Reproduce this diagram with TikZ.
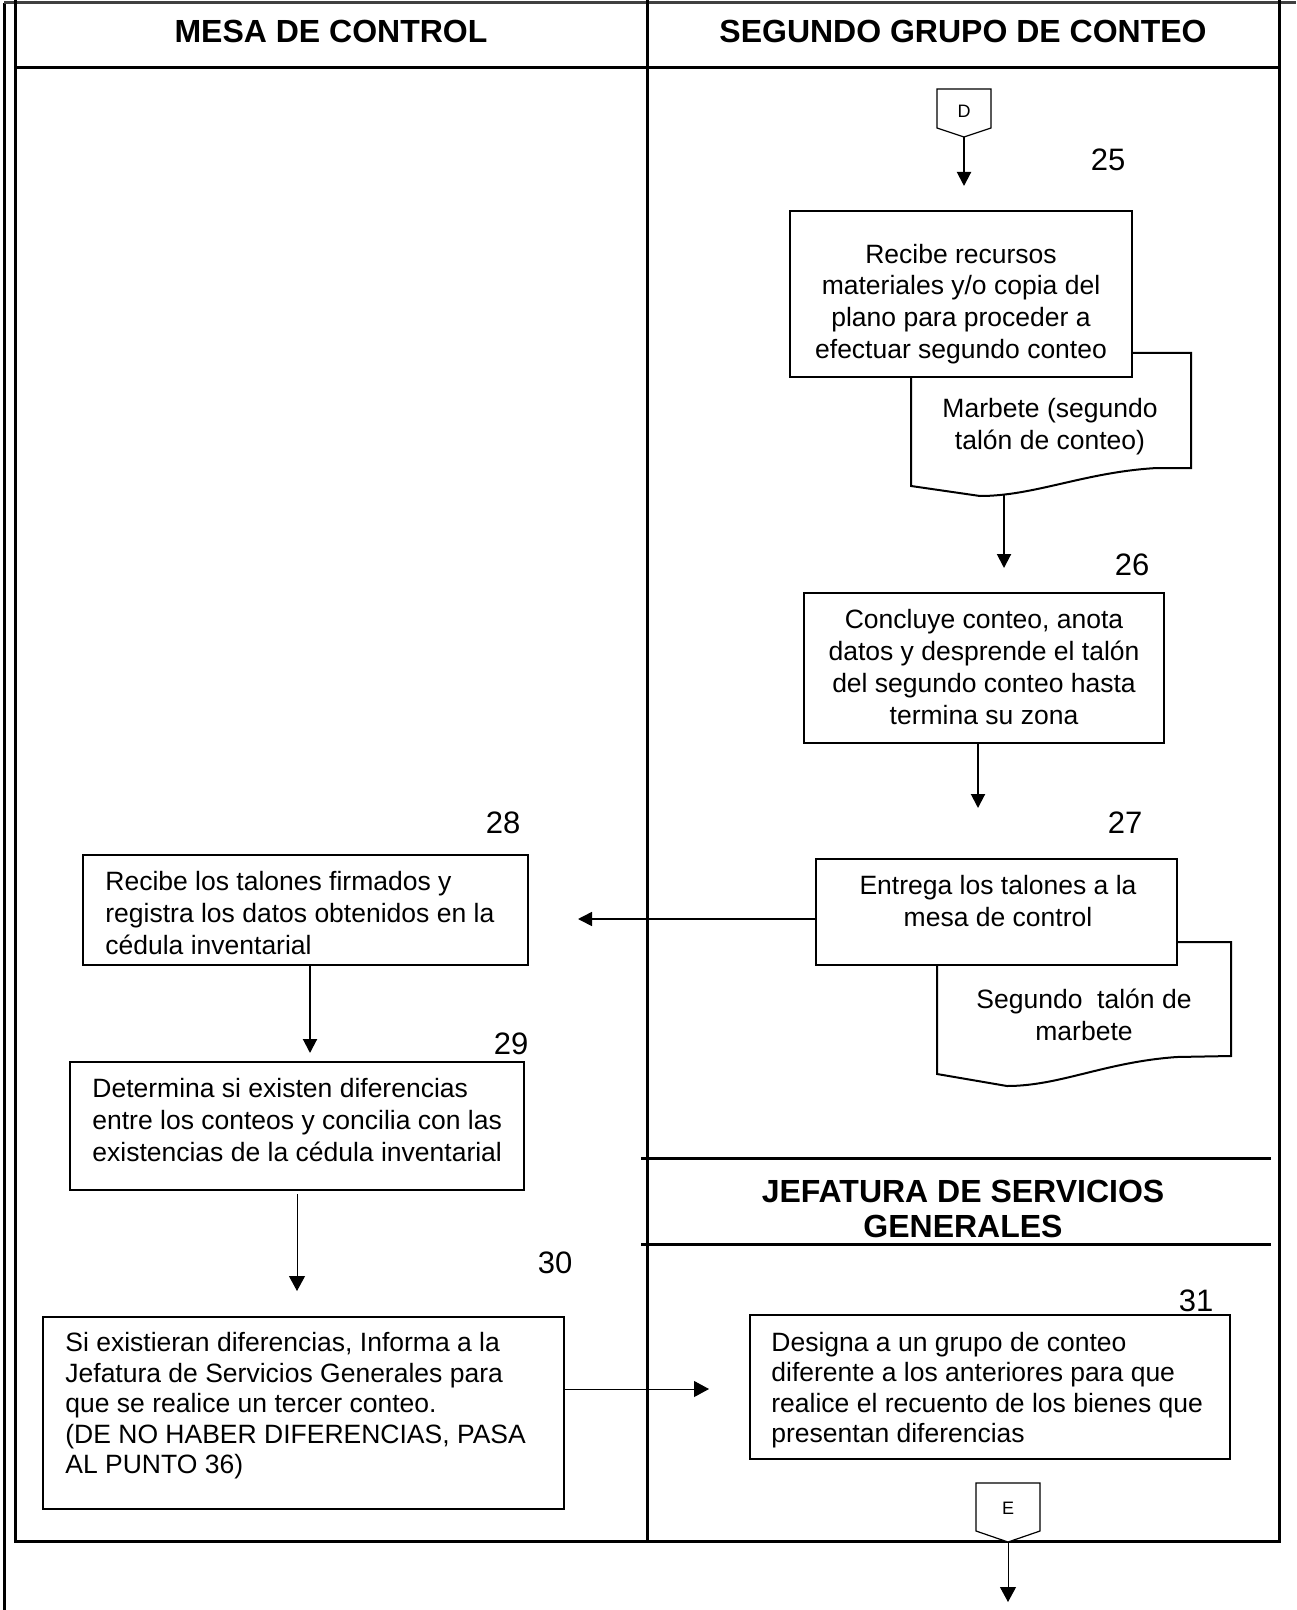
\documentclass[tikz,border=0pt]{standalone}
\usepackage{fontspec}
\setmainfont{Liberation Sans}
\usetikzlibrary{arrows.meta}

\begin{document}
\begin{tikzpicture}[x=0.5pt,y=-0.5pt,
  lane/.style={line width=1.5pt},
  box/.style={draw, line width=1pt, fill=white, inner sep=0pt, outer sep=0pt},
  body/.style={font=\fontsize{13.25}{15.9}\selectfont, inner sep=0pt},
  tightbody/.style={font=\fontsize{13.25}{15.25}\selectfont, inner sep=0pt},
  num/.style={font=\fontsize{15.5}{18}\selectfont, inner sep=0pt},
  head/.style={font=\bfseries\fontsize{16}{17.5}\selectfont, inner sep=0pt, align=center},
  flow/.style={line width=1pt, -{Triangle[length=7pt,width=7pt]}},
  thinflow/.style={line width=0.5pt, -{Triangle[length=7.5pt,width=8pt]}},
  docshape/.style={draw, line width=1pt, fill=white},
  offpage/.style={draw, line width=0.6pt, fill=white},
]
\useasboundingbox (0,0) rectangle (1296,1610);

% ---- swimlane frame ----
\draw[lane] (4,3) -- (4,1610);
\draw[line width=1.5pt, black!75] (4,3) -- (1296,3);
\draw[lane] (15,0) -- (15,1541) -- (1279,1541) -- (1279,0);
\draw[lane] (647,0) -- (647,1541);
\draw[lane] (15,68) -- (1279,68);
\draw[lane] (641,1158) -- (1271,1158);
\draw[lane] (641,1244) -- (1271,1244);

\node[head] (hmesa) at (331,31) {MESA DE CONTROL};
\node[head] (hsegundo) at (963,31) {SEGUNDO GRUPO DE CONTEO};
\node[head] (hjefatura) at (963,1209) {JEFATURA DE SERVICIOS\\GENERALES};

% ---- off-page connector D ----
\draw[offpage] (937,89) -- (991,89) -- (991,128) -- (964,137) -- (937,128) -- cycle;
\node[font=\fontsize{9}{10}\selectfont, inner sep=0pt] (D) at (964,111) {D};
\coordinate (Dtip) at (964,137);

% ---- documents (drawn below the boxes) ----
\draw[docshape] (911,353) -- (1191,353) -- (1191,468) -- (1157,468)
  .. controls (1085,472) and (1035,496) .. (980,496) -- (911,486) -- cycle;
\node[body, align=center] (doc1) at (1050,427) {Marbete (segundo\\talón de conteo)};
\coordinate (d1b) at (1004,494.5);

\draw[docshape] (937,942) -- (1231,942) -- (1231,1056) -- (1177,1057)
  .. controls (1105,1062) and (1060,1086) .. (1007,1086) -- (937,1074) -- cycle;
\node[body, align=center] (doc2) at (1084,1015) {Segundo\ \ talón de\\marbete};

% ---- process boxes ----
\node[box, minimum width=171pt, minimum height=83pt] (box25) at (961,294) {};
\node[body, align=center] (t25) at (961,304) {Recibe recursos\\materiales y/o copia del\\plano para proceder a\\efectuar segundo conteo};

\node[box, minimum width=180pt, minimum height=75pt] (box26) at (984,668) {};
\node[body, align=center] (t26) at (984,667) {Concluye conteo, anota\\datos y desprende el talón\\del segundo conteo hasta\\termina su zona};

\node[box, minimum width=180.5pt, minimum height=53pt] (box27) at (996.5,912) {};
\node[body, align=center] (t27) at (998,901) {Entrega los talones a la\\mesa de control};

\node[box, minimum width=222.5pt, minimum height=55pt] (box28) at (305.5,910) {};
\node[body, align=left, anchor=west] (t28) at (105,913) {Recibe los talones firmados y\\registra los datos obtenidos en la\\cédula inventarial};

\node[box, minimum width=227pt, minimum height=64pt] (box29) at (297,1126) {};
\node[body, align=left, anchor=west] (t29) at (92,1120) {Determina si existen diferencias\\entre los conteos y concilia con las\\existencias de la cédula inventarial};

\node[box, minimum width=260.5pt, minimum height=96pt] (box30) at (303.5,1413) {};
\node[tightbody, align=left, anchor=west] (t30) at (65,1406) {Si existieran diferencias, Informa a la\\Jefatura de Servicios Generales para\\que se realice un tercer conteo.\\(DE NO HABER DIFERENCIAS, PASA\\AL PUNTO 36)};

\node[box, minimum width=240pt, minimum height=72pt] (box31) at (990,1387) {};
\node[tightbody, align=left, anchor=west] (t31) at (771,1390) {Designa a un grupo de conteo\\diferente a los anteriores para que\\realice el recuento de los bienes que\\presentan diferencias};

% ---- step numbers ----
\node[num] (n25) at (1108,160) {25};
\node[num] (n26) at (1132,565) {26};
\node[num] (n27) at (1125,823) {27};
\node[num] (n28) at (503,823) {28};
\node[num] (n29) at (511,1044) {29};
\node[num] (n30) at (555,1263) {30};
\node[num] (n31) at (1196,1301) {31};

% ---- off-page connector E ----
\draw[offpage] (976,1483) -- (1040,1483) -- (1040,1531) -- (1008,1542) -- (976,1531) -- cycle;
\node[font=\fontsize{9}{10}\selectfont, inner sep=0pt] (E) at (1008,1508) {E};
\coordinate (Etip) at (1008,1542);
\coordinate (Eend) at (1008,1602);

% ---- connectors ----
\draw[flow, shorten >=12.5pt] (Dtip) -- (Dtip |- box25.north);
\draw[flow, shorten >=12.5pt] (d1b) -- (d1b |- box26.north);
\draw[flow, shorten >=25.5pt] (978,0 |- box26.south) -- (978,0 |- box27.north);
\coordinate (h27) at ([yshift=-3.5pt]box27.west);
\draw[line width=0.8pt, -{Triangle[length=7pt,width=7pt]}, shorten >=25pt] (h27) -- (h27 -| box28.east);
\draw[flow, shorten >=4.5pt] (310,0 |- box28.south) -- (310,0 |- box29.north);
\draw[thinflow, shorten <=2pt, shorten >=13pt] (box29.south) -- (box29.south |- box30.north);
\coordinate (h30) at ([yshift=12pt]box30.east);
\draw[thinflow, shorten >=20.5pt] (h30) -- (h30 -| box31.west);
\draw[thinflow] (Etip) -- (Eend);
\end{tikzpicture}
\end{document}
